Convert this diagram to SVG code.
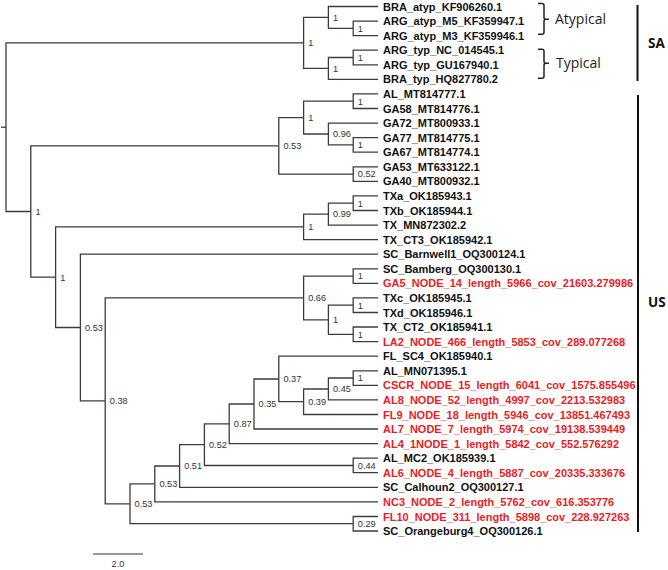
<svg xmlns="http://www.w3.org/2000/svg" width="668" height="570" viewBox="0 0 668 570">
<style>
.br{fill:none;stroke:#3c3c3c;stroke-width:1.3}
.lf{font-family:"Liberation Sans",Arial,sans-serif;font-size:11px;font-weight:bold;fill:#111}
.rd{fill:#ec1c24}
.sp{font-family:"Liberation Sans",Arial,sans-serif;font-size:9.2px;fill:#333}
.grp{font-family:"Open Sans","Liberation Sans",sans-serif;font-size:14px;fill:#222}
.reg{font-family:"Open Sans","Liberation Sans",sans-serif;font-size:13.5px;font-weight:bold;fill:#111}
.bar{fill:none;stroke:#111;stroke-width:2}
.brace{fill:none;stroke:#222;stroke-width:1.5}
</style>
<rect width="668" height="570" fill="#fff"/>
<g id="connectors" class="br">
<path d="M1,127.2 H6"/>
<path d="M303.6,42.9 H6 V211.5 H30.8"/>
<path d="M328.4,17.4 H303.6 V68.4 H328.4"/>
<path d="M378,6.5 H328.4 V28.4 H353.2"/>
<path d="M378,21.1 H353.2 V35.6 H378"/>
<path d="M353.2,57.5 H328.4 V79.4 H378"/>
<path d="M378,50.2 H353.2 V64.8 H378"/>
<path d="M278.8,145.8 H30.8 V277.2 H55.6"/>
<path d="M303.6,117.6 H278.8 V174.1 H353.2"/>
<path d="M353.2,101.2 H303.6 V134 H328.4"/>
<path d="M378,93.9 H353.2 V108.5 H378"/>
<path d="M378,123.1 H328.4 V144.9 H353.2"/>
<path d="M378,137.6 H353.2 V152.2 H378"/>
<path d="M378,166.8 H353.2 V181.3 H378"/>
<path d="M303.6,226.9 H55.6 V327.5 H80.4"/>
<path d="M328.4,214.1 H303.6 V239.6 H378"/>
<path d="M353.2,203.2 H328.4 V225.1 H378"/>
<path d="M378,195.9 H353.2 V210.5 H378"/>
<path d="M378,254.2 H80.4 V400.9 H105.2"/>
<path d="M303.6,297.9 H105.2 V503.8 H130"/>
<path d="M353.2,276.1 H303.6 V319.8 H328.4"/>
<path d="M378,268.8 H353.2 V283.3 H378"/>
<path d="M353.2,305.2 H328.4 V334.3 H353.2"/>
<path d="M378,297.9 H353.2 V312.5 H378"/>
<path d="M378,327 H353.2 V341.6 H378"/>
<path d="M154.8,483.9 H130 V523.7 H353.2"/>
<path d="M179.6,466 H154.8 V501.9 H378"/>
<path d="M204.4,444.6 H179.6 V487.3 H378"/>
<path d="M229.2,423.8 H204.4 V465.5 H353.2"/>
<path d="M378,458.2 H353.2 V472.7 H378"/>
<path d="M254,404 H229.2 V443.6 H378"/>
<path d="M278.8,379 H254 V429 H378"/>
<path d="M378,356.2 H278.8 V401.7 H303.6"/>
<path d="M328.4,389 H303.6 V414.5 H378"/>
<path d="M353.2,378 H328.4 V399.9 H378"/>
<path d="M378,370.8 H353.2 V385.3 H378"/>
<path d="M378,516.5 H353.2 V531 H378"/>
</g>
<g id="support-values" class="sp">
<g id="n-SA"><text x="308.2" y="46.2">1</text></g>
<g id="n-atyp"><text x="333" y="20.7">1</text></g>
<g id="n-m5m3"><text x="357.8" y="31.7">1</text></g>
<g id="n-typ"><text x="333" y="71.7">1</text></g>
<g id="n-ncgu"><text x="357.8" y="60.8">1</text></g>
<g id="n-US"><text x="35.4" y="214.8">1</text></g>
<g id="n-A"><text x="283.4" y="149.1">0.53</text></g>
<g id="n-C"><text x="308.2" y="120.9">1</text></g>
<g id="n-alga58"><text x="357.8" y="104.5">1</text></g>
<g id="n-E"><text x="333" y="137.3">0.96</text></g>
<g id="n-ga77ga67"><text x="357.8" y="148.2">1</text></g>
<g id="n-ga53ga40"><text x="357.8" y="177.4">0.52</text></g>
<g id="n-B"><text x="60.2" y="280.5">1</text></g>
<g id="n-F"><text x="308.2" y="230.2">1</text></g>
<g id="n-H"><text x="333" y="217.4">0.99</text></g>
<g id="n-txatxb"><text x="357.8" y="206.5">1</text></g>
<g id="n-G"><text x="85" y="330.8">0.53</text></g>
<g id="n-I"><text x="109.8" y="404.2">0.38</text></g>
<g id="n-J"><text x="308.2" y="301.2">0.66</text></g>
<g id="n-bambga5"><text x="357.8" y="279.4">1</text></g>
<g id="n-L"><text x="333" y="323.1">1</text></g>
<g id="n-txctxd"><text x="357.8" y="308.5">1</text></g>
<g id="n-ct2la2"><text x="357.8" y="337.6">1</text></g>
<g id="n-K"><text x="134.6" y="507.1">0.53</text></g>
<g id="n-M"><text x="159.4" y="487.2">0.53</text></g>
<g id="n-N"><text x="184.2" y="469.3">0.51</text></g>
<g id="n-O"><text x="209" y="447.9">0.52</text></g>
<g id="n-mc2al6"><text x="357.8" y="468.8">0.44</text></g>
<g id="n-P"><text x="233.8" y="427.1">0.87</text></g>
<g id="n-Q"><text x="258.6" y="407.3">0.35</text></g>
<g id="n-R"><text x="283.4" y="382.3">0.37</text></g>
<g id="n-S"><text x="308.2" y="405">0.39</text></g>
<g id="n-T"><text x="333" y="392.3">0.45</text></g>
<g id="n-almncscr"><text x="357.8" y="381.3">1</text></g>
<g id="n-fl10or"><text x="357.8" y="527">0.29</text></g>
</g>
<g id="leaves" class="lf">
<g id="leaf01"><text x="383" y="10.5">BRA_atyp_KF906260.1</text></g>
<g id="leaf02"><text x="383" y="25.1">ARG_atyp_M5_KF359947.1</text></g>
<g id="leaf03"><text x="383" y="39.6">ARG_atyp_M3_KF359946.1</text></g>
<g id="leaf04"><text x="383" y="54.2">ARG_typ_NC_014545.1</text></g>
<g id="leaf05"><text x="383" y="68.8">ARG_typ_GU167940.1</text></g>
<g id="leaf06"><text x="383" y="83.4">BRA_typ_HQ827780.2</text></g>
<g id="leaf07"><text x="383" y="97.9">AL_MT814777.1</text></g>
<g id="leaf08"><text x="383" y="112.5">GA58_MT814776.1</text></g>
<g id="leaf09"><text x="383" y="127.1">GA72_MT800933.1</text></g>
<g id="leaf10"><text x="383" y="141.6">GA77_MT814775.1</text></g>
<g id="leaf11"><text x="383" y="156.2">GA67_MT814774.1</text></g>
<g id="leaf12"><text x="383" y="170.8">GA53_MT633122.1</text></g>
<g id="leaf13"><text x="383" y="185.3">GA40_MT800932.1</text></g>
<g id="leaf14"><text x="383" y="199.9">TXa_OK185943.1</text></g>
<g id="leaf15"><text x="383" y="214.5">TXb_OK185944.1</text></g>
<g id="leaf16"><text x="383" y="229.1">TX_MN872302.2</text></g>
<g id="leaf17"><text x="383" y="243.6">TX_CT3_OK185942.1</text></g>
<g id="leaf18"><text x="383" y="258.2">SC_Barnwell1_OQ300124.1</text></g>
<g id="leaf19"><text x="383" y="272.8">SC_Bamberg_OQ300130.1</text></g>
<g id="leaf20"><text class="rd" x="383" y="287.3">GA5_NODE_14_length_5966_cov_21603.279986</text></g>
<g id="leaf21"><text x="383" y="301.9">TXc_OK185945.1</text></g>
<g id="leaf22"><text x="383" y="316.5">TXd_OK185946.1</text></g>
<g id="leaf23"><text x="383" y="331">TX_CT2_OK185941.1</text></g>
<g id="leaf24"><text class="rd" x="383" y="345.6">LA2_NODE_466_length_5853_cov_289.077268</text></g>
<g id="leaf25"><text x="383" y="360.2">FL_SC4_OK185940.1</text></g>
<g id="leaf26"><text x="383" y="374.8">AL_MN071395.1</text></g>
<g id="leaf27"><text class="rd" x="383" y="389.3">CSCR_NODE_15_length_6041_cov_1575.855496</text></g>
<g id="leaf28"><text class="rd" x="383" y="403.9">AL8_NODE_52_length_4997_cov_2213.532983</text></g>
<g id="leaf29"><text class="rd" x="383" y="418.5">FL9_NODE_18_length_5946_cov_13851.467493</text></g>
<g id="leaf30"><text class="rd" x="383" y="433">AL7_NODE_7_length_5974_cov_19138.539449</text></g>
<g id="leaf31"><text class="rd" x="383" y="447.6">AL4_1NODE_1_length_5842_cov_552.576292</text></g>
<g id="leaf32"><text x="383" y="462.2">AL_MC2_OK185939.1</text></g>
<g id="leaf33"><text class="rd" x="383" y="476.7">AL6_NODE_4_length_5887_cov_20335.333676</text></g>
<g id="leaf34"><text x="383" y="491.3">SC_Calhoun2_OQ300127.1</text></g>
<g id="leaf35"><text class="rd" x="383" y="505.9">NC3_NODE_2_length_5762_cov_616.353776</text></g>
<g id="leaf36"><text class="rd" x="383" y="520.5">FL10_NODE_311_length_5898_cov_228.927263</text></g>
<g id="leaf37"><text x="383" y="535">SC_Orangeburg4_OQ300126.1</text></g>
</g>
<g id="atypical">
<path class="brace" d="M538,3.5 H542 Q544,3.5 544,5.5 V17.3 Q544,19.3 546,19.3 H549 M546,19.3 Q544,19.3 544,21.3 V32.3 Q544,34.3 542,34.3 H538"/>
<text class="grp" x="555" y="24.3">Atypical</text>
</g>
<g id="typical">
<path class="brace" d="M538,49.3 H542 Q544,49.3 544,51.3 V61.3 Q544,63.3 546,63.3 H549 M546,63.3 Q544,63.3 544,65.3 V76.3 Q544,78.3 542,78.3 H538"/>
<text class="grp" x="556" y="68.3">Typical</text>
</g>
<g id="SA">
<path class="bar" d="M637.5,5 V81"/>
<text class="reg" x="648" y="48">SA</text>
</g>
<g id="US">
<path class="bar" d="M638,95 V532"/>
<text class="reg" x="648" y="306.5">US</text>
</g>
<g id="scale">
<path d="M93,554 H143" fill="none" stroke="#333" stroke-width="1.2"/>
<text x="118" y="566.5" text-anchor="middle" font-family="Liberation Sans, Arial, sans-serif" font-size="9.2" fill="#333">2.0</text>
</g>
</svg>
